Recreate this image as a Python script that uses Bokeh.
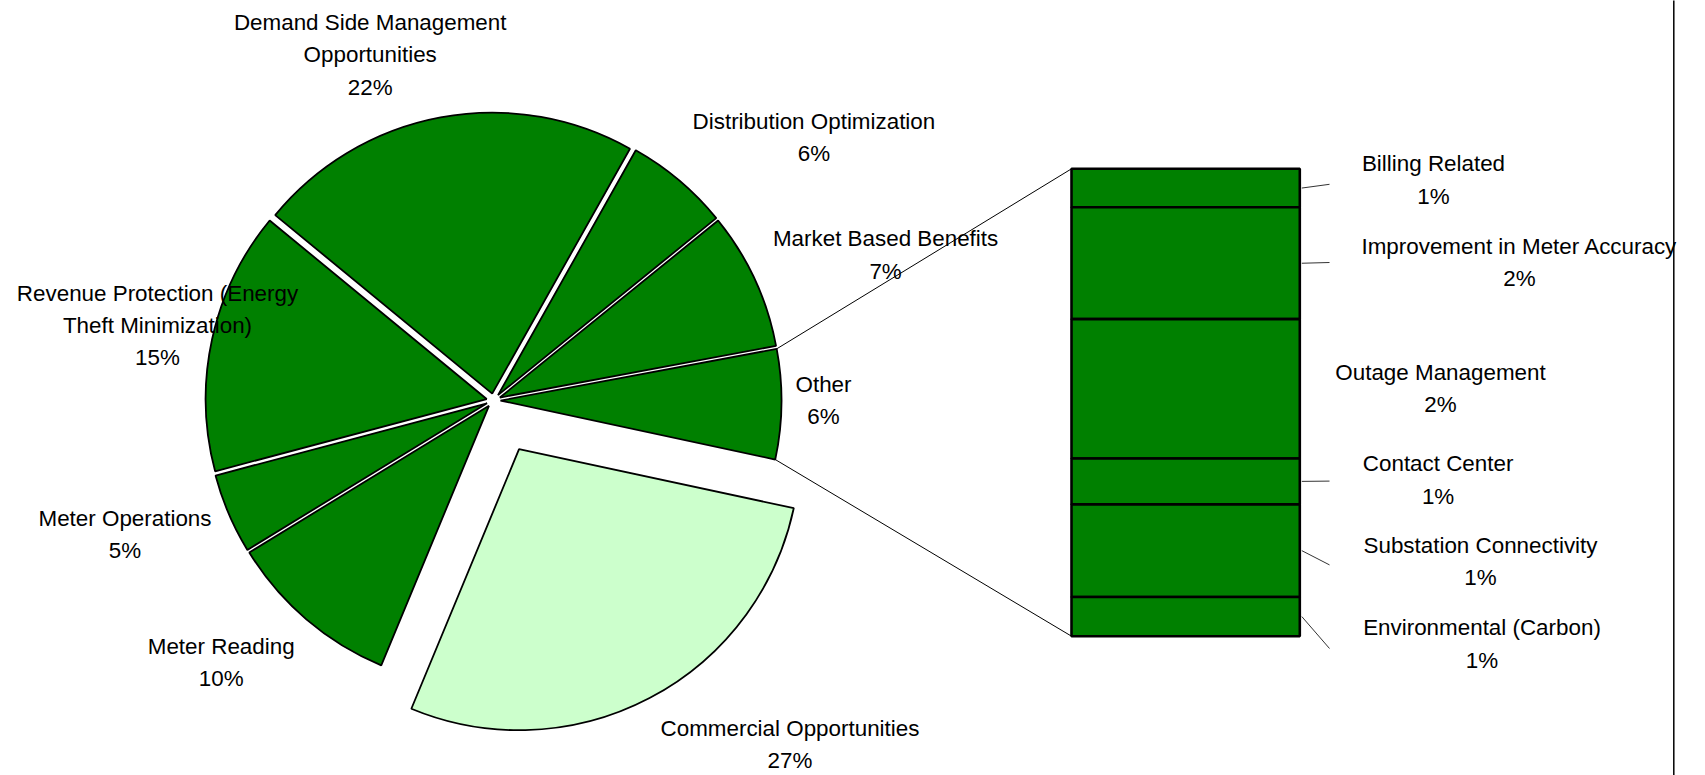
import numpy as np
from bokeh.plotting import figure
from bokeh.models import Range1d
from bokeh.core.properties import value
from bokeh.embed import file_html
from bokeh.resources import INLINE

# ---------------- data ----------------
# primary pie, clockwise starting with the "Other" slice (centred at 3 o'clock)
pie_categories = ["Other", "Commercial Opportunities", "Meter Reading", "Meter Operations",
                  "Revenue Protection (Energy\nTheft Minimization)",
                  "Demand Side Management\nOpportunities",
                  "Distribution Optimization", "Market Based Benefits"]
pie_values_main = [27.9, 10.0, 4.6, 15.1, 22.2, 6.0, 7.9]   # all but "Other"
pie_pct_labels = ["6%", "27%", "10%", "5%", "15%", "22%", "6%", "7%"]

# secondary bar (break-down of "Other"), top to bottom
bar_categories = ["Billing Related", "Improvement in Meter Accuracy", "Outage Management",
                  "Contact Center", "Substation Connectivity", "Environmental (Carbon)"]
bar_values = [0.52, 1.51, 1.88, 0.62, 1.25, 0.53]
bar_pct_labels = ["1%", "2%", "2%", "1%", "1%", "1%"]

other_value = sum(bar_values)
pie_values = [other_value] + pie_values_main

# ---------------- layout ----------------
W, H = 1705, 775
def X(xr):
    return xr
def Y(yr):
    return H - yr

CX, CY = 493.0, 400.0       # pie centre (reference px)
R = 281.0
EXPLODE = 7.0
EXPLODE_BIG = 55.0
ROT = 0.75                  # centre angle of "Other" (deg, clockwise from 3 o'clock)
GREEN = "#008000"
LIGHT = "#CCFFCC"

p = figure(width=W, height=H, x_range=Range1d(0, W), y_range=Range1d(0, H),
           output_backend="svg", toolbar_location=None, min_border=0,
           x_axis_type=None, y_axis_type=None)
p.grid.visible = False
p.outline_line_color = None
p.background_fill_color = "white"
p.border_fill_color = "white"

total = sum(pie_values)
degs = [v / total * 360.0 for v in pie_values]
start = ROT - degs[0] / 2.0
slices = []
for i, d in enumerate(degs):
    s, e = start, start + d
    mid = np.radians((s + e) / 2.0)
    ex = EXPLODE_BIG if i == 1 else EXPLODE
    ax = CX + ex * np.cos(mid)
    ay = CY + ex * np.sin(mid)
    slices.append((s, e, ax, ay))
    start = e

xs, ys, sa, ea, cols = [], [], [], [], []
for i, (s, e, ax, ay) in enumerate(slices):
    xs.append(X(ax)); ys.append(Y(ay))
    sa.append(-np.radians(e)); ea.append(-np.radians(s))
    cols.append(LIGHT if i == 1 else GREEN)
p.wedge(x=xs, y=ys, radius=R, start_angle=sa, end_angle=ea, direction="anticlock",
        fill_color=cols, line_color="black", line_width=1.8)

# ---------------- secondary bar ----------------
BAR_L, BAR_R = 1071.0, 1299.3
BAR_TOP, BAR_H = 168.3, 467.4
scale = BAR_H / other_value
tops, bots = [], []
cur = BAR_TOP
for v in bar_values:
    tops.append(cur)
    cur += v * scale
    bots.append(cur)
p.quad(left=[X(BAR_L)] * len(bar_values), right=[X(BAR_R)] * len(bar_values),
       top=[Y(t) for t in tops], bottom=[Y(b) for b in bots],
       fill_color=GREEN, line_color="black", line_width=2.6)

# connector lines from the "Other" slice to the bar
s0, e0, ax0, ay0 = slices[0]
c1 = (ax0 + R * np.cos(np.radians(s0)), ay0 + R * np.sin(np.radians(s0)))
c2 = (ax0 + R * np.cos(np.radians(e0)), ay0 + R * np.sin(np.radians(e0)))
p.segment(x0=[X(c1[0]), X(c2[0])], y0=[Y(c1[1]), Y(c2[1])],
          x1=[X(BAR_L), X(BAR_L)], y1=[Y(BAR_TOP), Y(BAR_TOP + BAR_H)],
          line_color="black", line_width=1)

# leader lines for the bar labels
leader_end = [(1329, 183.8), (1329, 262.0), None, (1329, 480.6), (1329, 564.4), (1329, 648.0)]
lx0, ly0, lx1, ly1 = [], [], [], []
for t, b, le in zip(tops, bots, leader_end):
    if le is None:
        continue
    lx0.append(X(BAR_R + 2)); ly0.append(Y((t + b) / 2.0))
    lx1.append(X(le[0])); ly1.append(Y(le[1]))
p.segment(x0=lx0, y0=ly0, x1=lx1, y1=ly1, line_color="#333333", line_width=1)

# right-hand frame line
p.segment(x0=[X(1673.3)], y0=[Y(-5)], x1=[X(1673.3)], y1=[Y(780)],
          line_color="black", line_width=1.5)

# ---------------- labels ----------------
LINE = 32.4
pie_label_pos = [(823.0, 383.8), (789.5, 727.5), (220.7, 646.0), (124.5, 517.6),
                 (157.0, 292.5), (369.7, 21.7), (813.4, 120.7), (885.1, 238.1)]
bar_label_pos = [(1433.0, 163.1), (1519.0, 245.8), (1440.0, 371.9),
                 (1437.6, 463.2), (1480.0, 544.8), (1481.5, 627.4)]

tx, ty, tt = [], [], []
def add_block(lines, pos):
    for k, ln in enumerate(lines):
        tx.append(X(pos[0])); ty.append(Y(pos[1] + k * LINE)); tt.append(ln)

for cat, pct, pos in zip(pie_categories, pie_pct_labels, pie_label_pos):
    add_block(cat.split("\n") + [pct], pos)
for cat, pct, pos in zip(bar_categories, bar_pct_labels, bar_label_pos):
    add_block(cat.split("\n") + [pct], pos)

p.text(x=tx, y=ty, text=tt, text_font=value("Liberation Sans"), text_font_size="22.4px",
       text_align="center", text_baseline="middle", text_color="black")

open("out.html", "w").write(file_html(p, INLINE))
